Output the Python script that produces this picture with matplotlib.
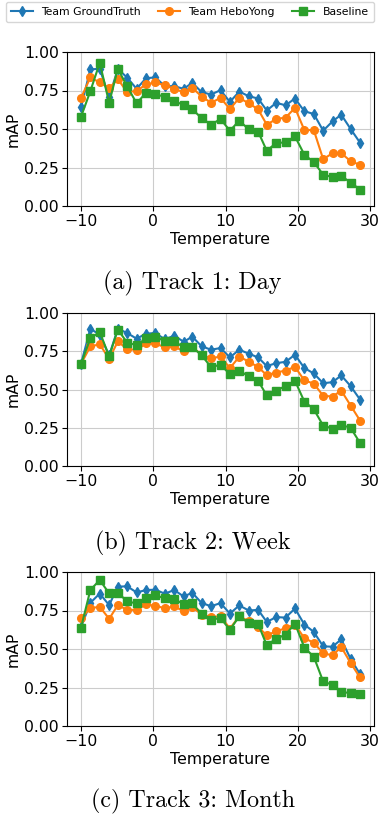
import matplotlib
matplotlib.use("Agg")
import matplotlib.pyplot as plt

temperature = [-10.0, -8.7, -7.4, -6.1, -4.9, -3.6, -2.3, -1.0, 0.3, 1.6, 2.9,
               4.2, 5.4, 6.7, 8.0, 9.3, 10.6, 11.9, 13.2, 14.5, 15.7, 17.0,
               18.3, 19.6, 20.9, 22.2, 23.5, 24.8, 26.0, 27.3, 28.6]

day_groundtruth = [0.641, 0.887, 0.891, 0.707, 0.891, 0.833, 0.761, 0.830, 0.835, 0.778, 0.778,
                   0.761, 0.800, 0.739, 0.724, 0.752, 0.676, 0.743, 0.713, 0.698, 0.620, 0.670,
                   0.654, 0.698, 0.615, 0.598, 0.489, 0.550, 0.593, 0.500, 0.411]
day_heboyong = [0.700, 0.835, 0.802, 0.765, 0.824, 0.739, 0.748, 0.789, 0.802, 0.783, 0.761,
                0.739, 0.767, 0.711, 0.670, 0.702, 0.630, 0.702, 0.667, 0.628, 0.528, 0.565,
                0.574, 0.637, 0.493, 0.493, 0.304, 0.343, 0.343, 0.291, 0.267]
day_baseline = [0.578, 0.746, 0.930, 0.670, 0.891, 0.776, 0.667, 0.735, 0.726, 0.709, 0.680,
                0.657, 0.628, 0.570, 0.528, 0.565, 0.489, 0.554, 0.498, 0.483, 0.359, 0.409,
                0.413, 0.452, 0.333, 0.285, 0.204, 0.187, 0.196, 0.152, 0.107]

week_groundtruth = [0.666, 0.897, 0.858, 0.723, 0.897, 0.869, 0.832, 0.865, 0.869, 0.828, 0.852,
                    0.812, 0.845, 0.782, 0.760, 0.771, 0.710, 0.760, 0.734, 0.710, 0.653, 0.672,
                    0.681, 0.727, 0.640, 0.605, 0.541, 0.548, 0.592, 0.522, 0.434]
week_heboyong = [0.666, 0.782, 0.795, 0.700, 0.814, 0.764, 0.758, 0.801, 0.801, 0.775, 0.782,
                 0.749, 0.777, 0.727, 0.703, 0.716, 0.640, 0.714, 0.683, 0.646, 0.594, 0.611,
                 0.624, 0.648, 0.559, 0.539, 0.459, 0.454, 0.493, 0.395, 0.297]
week_baseline = [0.666, 0.834, 0.876, 0.716, 0.891, 0.806, 0.790, 0.834, 0.841, 0.819, 0.814,
                 0.777, 0.777, 0.723, 0.646, 0.662, 0.600, 0.622, 0.587, 0.557, 0.461, 0.491,
                 0.524, 0.557, 0.421, 0.371, 0.264, 0.245, 0.269, 0.249, 0.151]

month_groundtruth = [0.640, 0.800, 0.860, 0.785, 0.905, 0.907, 0.867, 0.883, 0.885, 0.859, 0.883,
                     0.841, 0.865, 0.798, 0.778, 0.798, 0.730, 0.783, 0.750, 0.754, 0.676, 0.707,
                     0.704, 0.763, 0.659, 0.611, 0.517, 0.515, 0.563, 0.435, 0.337]
month_heboyong = [0.700, 0.765, 0.774, 0.696, 0.785, 0.754, 0.754, 0.789, 0.780, 0.765, 0.776,
                  0.746, 0.772, 0.724, 0.707, 0.713, 0.633, 0.713, 0.680, 0.643, 0.589, 0.615,
                  0.635, 0.659, 0.570, 0.541, 0.472, 0.459, 0.513, 0.409, 0.315]
month_baseline = [0.637, 0.883, 0.948, 0.861, 0.865, 0.809, 0.796, 0.830, 0.850, 0.828, 0.822,
                  0.793, 0.796, 0.728, 0.689, 0.702, 0.624, 0.713, 0.667, 0.663, 0.524, 0.567,
                  0.593, 0.665, 0.509, 0.450, 0.289, 0.267, 0.222, 0.213, 0.211]

series_names = ["Team GroundTruth", "Team HeboYong", "Baseline"]
captions = ["(a) Track 1: Day", "(b) Track 2: Week", "(c) Track 3: Month"]
yticks = [0.0, 0.25, 0.5, 0.75, 1.0]

panels = [
    (day_groundtruth, day_heboyong, day_baseline),
    (week_groundtruth, week_heboyong, week_baseline),
    (month_groundtruth, month_heboyong, month_baseline),
]

colors = ["#1f77b4", "#ff7f0e", "#2ca02c"]
markers = ["d", "o", "s"]

W, H = 380, 819
fig = plt.figure(figsize=(W / 100, H / 100), dpi=100)

ax_boxes = [(52, 206), (313, 466), (572, 726)]
caption_y = [283, 543, 801]
left_px, right_px = 67, 374
fs = 11.3

handles = None
for (top, bot), data, cap, cy in zip(ax_boxes, panels, captions, caption_y):
    ax = fig.add_axes([left_px / W, 1 - bot / H, (right_px - left_px) / W, (bot - top) / H])
    hs = []
    for vals, c, m, name in zip(data, colors, markers, series_names):
        h, = ax.plot(temperature, vals, color=c, marker=m, markersize=5.5, linewidth=1.5, label=name)
        hs.append(h)
    handles = hs
    ax.set_ylim(0, 1)
    ax.set_yticks(yticks)
    ax.set_xticks([-10, 0, 10, 20, 30])
    ax.grid(True, color="#cccccc", linewidth=0.8)
    ax.set_axisbelow(True)
    ax.set_ylabel("mAP", fontsize=fs, labelpad=2)
    ax.set_xlabel("Temperature", fontsize=fs, labelpad=2)
    ax.tick_params(labelsize=fs, pad=2.5)
    fig.text(0.507, 1 - cy / H, cap, ha="center", va="center", fontsize=17.3, family="cmr10")

fig.legend(handles, series_names, loc="upper left", ncol=3, fontsize=7.8,
           bbox_to_anchor=(6 / W, 1 - 2 / H), frameon=True, handlelength=2.0, columnspacing=1.6,
           borderaxespad=0.0, borderpad=0.45)

fig.savefig("out.png", dpi=100)
